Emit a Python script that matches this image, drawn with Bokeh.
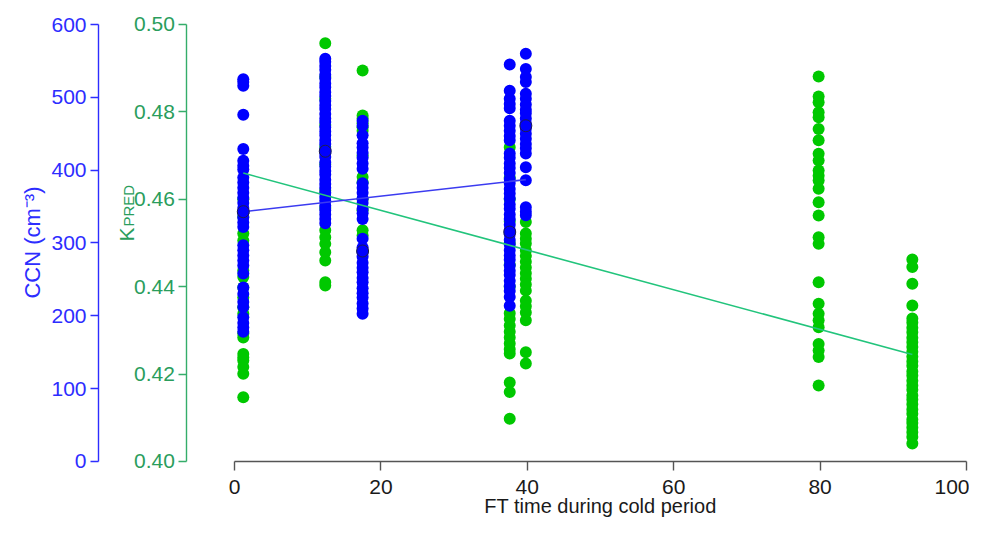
import math
from bokeh.plotting import figure
from bokeh.models import Range1d, LinearAxis, FixedTicker, Label, NumeralTickFormatter
from bokeh.embed import file_html
from bokeh.resources import INLINE

# ---------------- data ----------------
# FT time (x) of each sampling column
t_c1, t_c2, t_c3, t_c4, t_c5, t_c6, t_c7 = 1.2, 12.4, 17.5, 37.6, 39.8, 79.8, 92.6

# CCN (cm-3), blue points
ccn_c1 = [525, 521, 516, 476, 429, 413, 406, 401, 390, 383, 376, 369, 362, 355, 348, 341,
          335, 328, 322, 297, 290, 283, 276, 269, 258, 239, 230, 219, 212, 198, 190, 184, 178]
ccn_c2 = [553, 549, 543, 538, 531, 526, 519, 514, 507, 502, 495, 489, 484, 477, 471, 466,
          459, 453, 448, 441, 436, 429, 423, 418, 411, 405, 399, 394, 387, 381, 376, 369,
          363, 358, 351, 345, 339, 333, 327]
ccn_c3 = [468, 461, 448, 437, 431, 424, 417, 409, 402, 382, 376, 369, 361, 355, 347, 341,
          333, 306, 294, 287, 281, 273, 266, 260, 252, 246, 238, 231, 225, 217, 210, 203]
ccn_c4 = [545, 509, 498, 491, 485, 468, 461, 454, 447, 441, 423, 417, 409, 403, 396, 388,
          382, 374, 368, 361, 353, 347, 339, 333, 325, 318, 312, 304, 298, 290, 283, 277,
          269, 262, 256, 248, 241, 234, 226, 214]
ccn_c5 = [560, 539, 528, 521, 505, 498, 490, 483, 478, 471, 464, 457, 450, 443, 436, 430,
          423, 404, 386, 349, 343, 338]

# kappa_PRED, green points
kappa_c1 = [0.4600, 0.4560, 0.4522, 0.4506, 0.4437, 0.4422, 0.4398, 0.4375, 0.4353, 0.4338,
            0.4293, 0.4284, 0.4246, 0.4238, 0.4231, 0.4216, 0.4201, 0.4147]
kappa_c2 = [0.4957, 0.4880, 0.4830, 0.4770, 0.4720, 0.4680, 0.4620, 0.4580, 0.4529, 0.4513,
            0.4498, 0.4479, 0.4460, 0.4410, 0.4403]
kappa_c3 = [0.4895, 0.4792, 0.4785, 0.4774, 0.4765, 0.4757, 0.4700, 0.4651, 0.4639, 0.4600,
            0.4575, 0.4529, 0.4517]
kappa_c4 = [0.4719, 0.4650, 0.4600, 0.4550, 0.4500, 0.4450, 0.4400, 0.4339, 0.4326, 0.4311,
            0.4297, 0.4284, 0.4270, 0.4257, 0.4247, 0.4181, 0.4159, 0.4098]
kappa_c5 = [0.4548, 0.4522, 0.4510, 0.4499, 0.4483, 0.4470, 0.4457, 0.4444, 0.4431, 0.4418,
            0.4405, 0.4391, 0.4368, 0.4355, 0.4341, 0.4323, 0.4250, 0.4224]
kappa_c6 = [0.4881, 0.4835, 0.4822, 0.4799, 0.4788, 0.4761, 0.4735, 0.4704, 0.4689, 0.4666,
            0.4654, 0.4643, 0.4624, 0.4593, 0.4563, 0.4513, 0.4498, 0.4410, 0.4361, 0.4338,
            0.4323, 0.4307, 0.4269, 0.4254, 0.4239, 0.4174]
kappa_c7 = [0.4462, 0.4445, 0.4407, 0.4357, 0.4327, 0.4318, 0.4306, 0.4296, 0.4283, 0.4273,
            0.4262, 0.4251, 0.4240, 0.4229, 0.4219, 0.4206, 0.4197, 0.4185, 0.4174, 0.4164,
            0.4151, 0.4142, 0.4131, 0.4119, 0.4109, 0.4096, 0.4088, 0.4078, 0.4067, 0.4056,
            0.4041]

# column means of CCN (ringed markers) and the two fitted lines
ccn_mean_t = [1.2, 12.4, 17.5, 37.6, 39.8]
ccn_mean = [343, 426, 289, 315, 461]
ccn_fit_t = [1.2, 39.8]
ccn_fit = [343, 387]
kappa_fit_t = [1.2, 92.6]
kappa_fit = [0.4660, 0.4245]

# ticks and texts
x_ticks = [0, 20, 40, 60, 80, 100]
ccn_ticks = [0, 100, 200, 300, 400, 500, 600]
kappa_ticks = [0.40, 0.42, 0.44, 0.46, 0.48, 0.50]
x_title = "FT time during cold period"
ccn_title = "CCN (cm⁻³)"
kappa_title, kappa_sub = "K", "PRED"

# ---------------- assemble ----------------
blue_t, blue_v = [], []
for t, vals in [(t_c1, ccn_c1), (t_c2, ccn_c2), (t_c3, ccn_c3), (t_c4, ccn_c4), (t_c5, ccn_c5)]:
    blue_t += [t] * len(vals)
    blue_v += vals
green_t, green_v = [], []
for t, vals in [(t_c1, kappa_c1), (t_c2, kappa_c2), (t_c3, kappa_c3), (t_c4, kappa_c4),
                (t_c5, kappa_c5), (t_c6, kappa_c6), (t_c7, kappa_c7)]:
    green_t += [t] * len(vals)
    green_v += vals

FONT = "Liberation Sans"
BLUE_AX = "#2d2dff"
GREEN_AX = "#34ad6a"
GREEN_TXT = "#2a9d5c"
BLUE_PT = "#0000ff"
GREEN_PT = "#00c800"

W, H = 969, 517
# frame covers the whole canvas; axes are placed at fixed data locations
p = figure(width=W, height=H, output_backend="svg", toolbar_location=None,
           x_range=Range1d(-31.967, 100.41), y_range=Range1d(0.387185, 0.505492),
           x_axis_location=None, y_axis_location=None,
           min_border_left=0, min_border_right=0, min_border_top=0, min_border_bottom=0)
p.extra_y_ranges = {"ccn": Range1d(-76.888, 632.952)}
p.outline_line_color = None
p.background_fill_color = "white"
p.border_fill_color = "white"
for r in list(p.center):
    r.visible = False


def style_axis(ax, color, label_color, standoff):
    ax.axis_line_color = color
    ax.axis_line_width = 1.4
    ax.major_tick_line_color = color
    ax.major_tick_line_width = 1.4
    ax.minor_tick_line_color = None
    ax.major_tick_out = 8
    ax.major_tick_in = 0
    ax.major_label_standoff = standoff
    ax.major_label_text_color = label_color
    ax.major_label_text_font = FONT
    ax.major_label_text_font_size = "21px"


ccn_axis = LinearAxis(y_range_name="ccn", fixed_location=-18.58,
                      ticker=FixedTicker(ticks=ccn_ticks), bounds=(0, 600))
style_axis(ccn_axis, BLUE_AX, BLUE_AX, 4)
p.add_layout(ccn_axis, "left")

k_axis = LinearAxis(fixed_location=-6.49, ticker=FixedTicker(ticks=kappa_ticks),
                    bounds=(0.40, 0.50), formatter=NumeralTickFormatter(format="0.00"))
style_axis(k_axis, GREEN_AX, GREEN_TXT, 4)
p.add_layout(k_axis, "left")

x_axis = LinearAxis(fixed_location=0.40, ticker=FixedTicker(ticks=x_ticks), bounds=(0, 100))
style_axis(x_axis, "#555555", "#1a1a1a", 10)
x_axis.major_tick_out = 9
p.add_layout(x_axis, "below")

# axis titles
p.add_layout(Label(x=50, y=0.38993, text=x_title, text_align="center",
                   text_baseline="middle", text_font=FONT, text_font_size="20px",
                   text_color="#1a1a1a"))
p.add_layout(Label(x=-27.6, y=0.4501, text=ccn_title, angle=math.pi / 2, text_align="center",
                   text_baseline="middle", text_font=FONT, text_font_size="22px",
                   text_color=BLUE_AX))
p.add_layout(Label(x=-14.8, y=0.45034, text=kappa_title, angle=math.pi / 2, text_align="left",
                   text_baseline="middle", text_font=FONT, text_font_size="21px",
                   text_color=GREEN_TXT))
p.add_layout(Label(x=-14.5, y=0.45378, text=kappa_sub, angle=math.pi / 2, text_align="left",
                   text_baseline="middle", text_font=FONT, text_font_size="15px",
                   text_color=GREEN_TXT))

p.scatter(green_t, green_v, size=12, fill_color=GREEN_PT, line_color=None)
p.scatter(blue_t, blue_v, size=12, fill_color=BLUE_PT, line_color=None, y_range_name="ccn")
p.line(kappa_fit_t, kappa_fit, line_color="#22c47c", line_width=1.6)
p.line(ccn_fit_t, ccn_fit, line_color="#3b3bf0", line_width=1.6, y_range_name="ccn")
p.scatter(ccn_mean_t, ccn_mean, size=12, fill_color=BLUE_PT, line_color="#1e1e50",
          line_width=1, y_range_name="ccn")

open("out.html", "w").write(file_html(p, INLINE))
